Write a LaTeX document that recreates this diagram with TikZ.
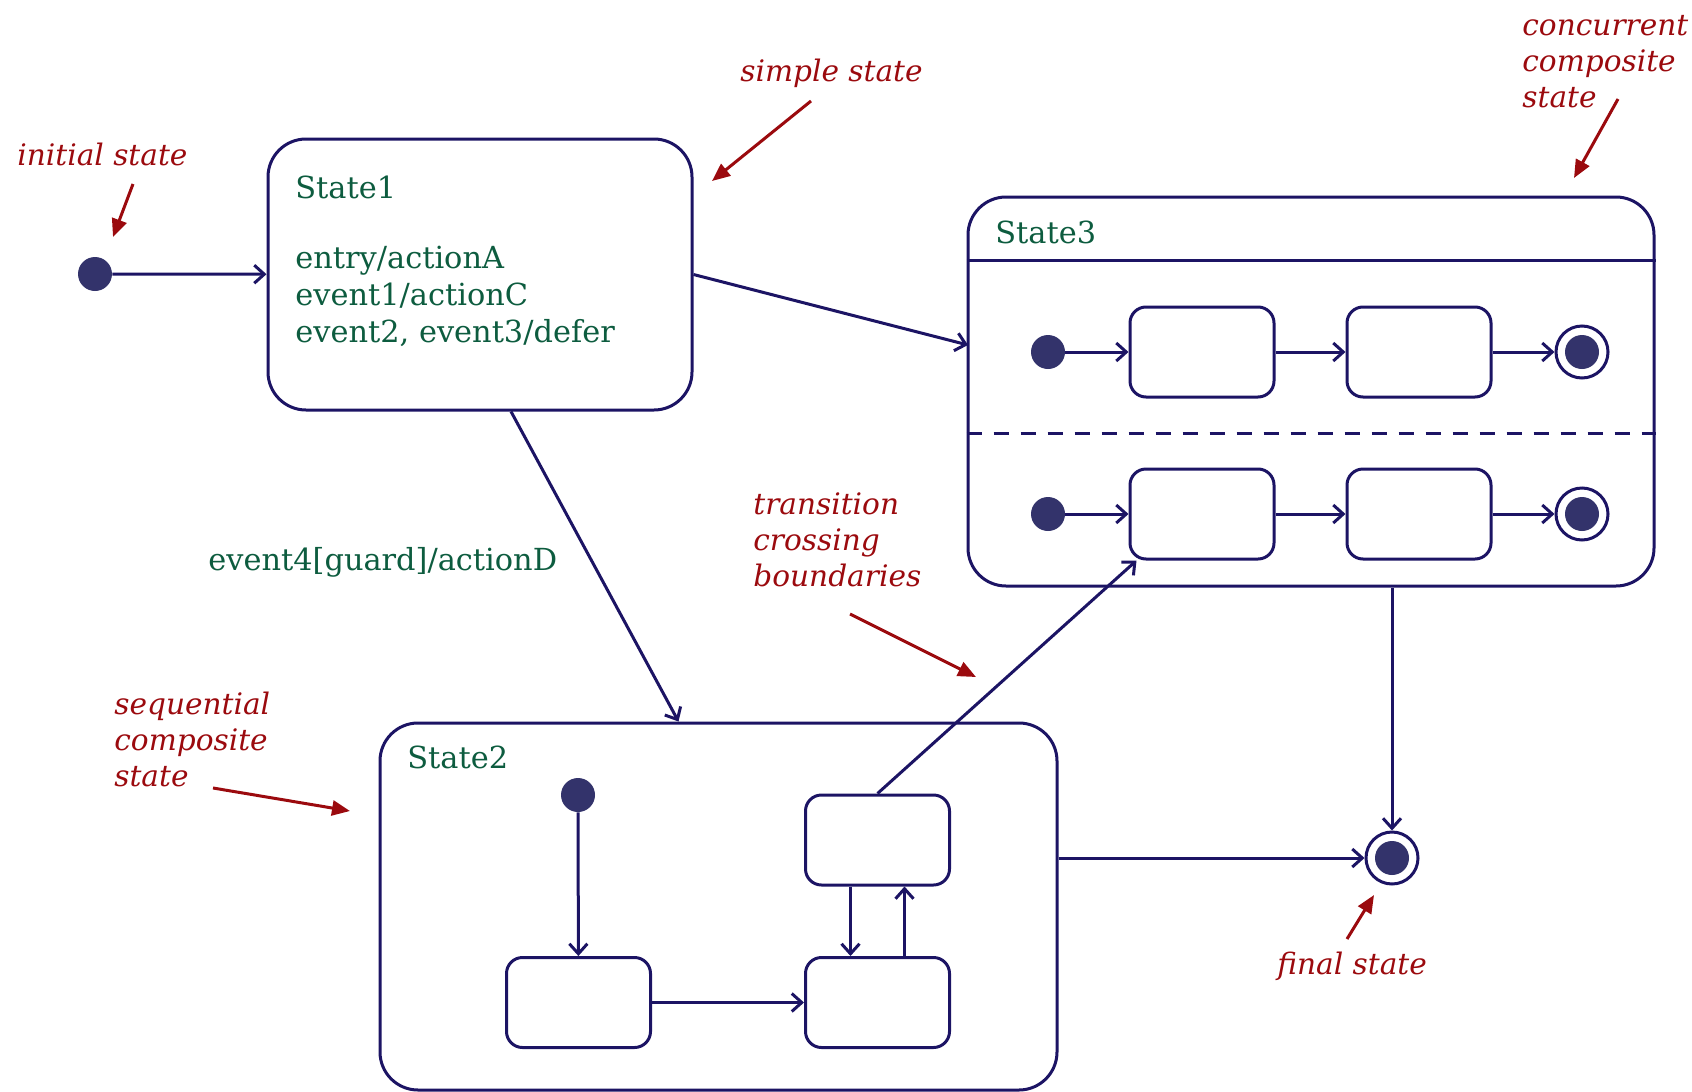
\documentclass[tikz,border=0pt]{standalone}
\usepackage{fontspec}
\setmainfont{DejaVu Serif}
\usetikzlibrary{arrows.meta, positioning, calc}
\definecolor{umlnavy}{HTML}{1C1464}
\definecolor{dotnavy}{HTML}{33336B}
\definecolor{umlgreen}{HTML}{0D5C3F}
\definecolor{notered}{HTML}{9B0A0E}

\begin{document}
\begin{tikzpicture}[x=0.5pt, y=-0.5pt, font=\fontsize{15.2}{18.5}\selectfont,
    statebox/.style={draw=umlnavy, line width=1.5pt, rounded corners=19pt, inner sep=0pt},
    substate/.style={draw=umlnavy, line width=1.5pt, rounded corners=8pt, minimum width=72pt, minimum height=45pt, inner sep=0pt},
    initdot/.style={circle, fill=dotnavy, minimum size=17pt, inner sep=0pt},
    finaldot/.style={circle, draw=umlnavy, line width=1.5pt, fill=white, minimum size=26pt, inner sep=0pt,
      path picture={\fill[dotnavy] (path picture bounding box.center) circle (8.5pt);}},
    trans/.style={draw=umlnavy, line width=1.5pt, -{Straight Barb[length=5pt, width=9pt]}},
    greentext/.style={text=umlgreen, inner sep=0pt, anchor=base west},
    notetext/.style={text=notered, font=\fontsize{14.8}{18}\selectfont\itshape, inner sep=0pt, anchor=base west, align=left},
    notearrow/.style={draw=notered, line width=1.5pt, -{Triangle[length=9pt, width=7.5pt]}}]
  \useasboundingbox (0,0) rectangle (1692,1092);

  % Estados compuestos y simple
  \node[statebox, minimum width=212pt, minimum height=135.5pt] (state1) at (480,274.5) {};
  \node[statebox, minimum width=343pt, minimum height=194.5pt] (state3) at (1311,391.5) {};
  \node[statebox, minimum width=338.5pt, minimum height=183.5pt] (state2) at (718.5,906.5) {};

  % Textos verdes (base = ultima linea)
  \node[greentext] (s1title) at (295,198) {State1};
  \node[greentext, align=left] (s1acts) at (295,342) {entry/actionA\\event1/actionC\\event2, event3/defer};
  \node[greentext] (s3title) at (995,243) {State3};
  \node[greentext] (s2title) at (407,768) {State2};
  \node[greentext] (guardlbl) at (208,570) {event4[guard]/actionD};

  % Cabecera y separador de regiones
  \coordinate (hdr) at (0,260);
  \coordinate (sep) at (0,433);
  \draw[umlnavy, line width=1.5pt] (state3.west |- hdr) -- (state3.east |- hdr);
  \draw[umlnavy, line width=1.5pt, dash pattern=on 7.5pt off 6pt] (state3.west |- sep) -- (state3.east |- sep);

  % Pseudoestados
  \node[initdot] (init) at (95,274) {};
  \node[finaldot] (final) at (1392,858) {};

  % Regiones de State3
  \node[initdot] (r1init) at (1048,352) {};
  \node[substate] (r1a) at (1202,352) {};
  \node[substate] (r1b) at (1419,352) {};
  \node[finaldot] (r1final) at (1582,352) {};
  \node[initdot] (r2init) at (1048,514) {};
  \node[substate] (r2a) at (1202,514) {};
  \node[substate] (r2b) at (1419,514) {};
  \node[finaldot] (r2final) at (1582,514) {};

  % Interior de State2
  \node[initdot] (s2init) at (578,795) {};
  \node[substate] (s2a) at (578.5,1002.5) {};
  \node[substate] (s2b) at (877.5,1002.5) {};
  \node[substate] (s2c) at (877.5,840) {};

  % Transiciones
  \coordinate (s3in) at (968,345);
  \draw[trans] (init) -- (state1);
  \draw[trans] (state1.east) -- (s3in);
  \draw[trans] ([xshift=15.5pt]state1.south) -- ([xshift=-20pt]state2.north);
  \draw[trans] (r1init) -- (r1a);
  \draw[trans] (r1a) -- (r1b);
  \draw[trans] (r1b) -- (r1final);
  \draw[trans] (r2init) -- (r2a);
  \draw[trans] (r2a) -- (r2b);
  \draw[trans] (r2b) -- (r2final);
  \draw[trans] (s2init) -- (s2a);
  \draw[trans] (s2a) -- (s2b);
  \draw[trans] ([xshift=-13.5pt]s2c.south) -- ([xshift=-13.5pt]s2b.north);
  \draw[trans] ([xshift=13.5pt]s2b.north) -- ([xshift=13.5pt]s2c.south);
  \draw[trans] (s2c.north) -- ([xshift=4pt]r2a.south west);
  \draw[trans] (state3.south -| final) -- (final);
  \draw[trans] (state2.east |- final) -- (final);

  % Notas en rojo (base = ultima linea)
  \node[notetext] (initnote) at (17,165) {initial state};
  \node[notetext] (simplenote) at (740,81) {simple state};
  \node[notetext] (concnote) at (1522,107) {concurrent\\composite\\state};
  \node[notetext] (crossnote) at (753,586) {transition\\crossing\\boundaries};
  \node[notetext] (seqnote) at (114,786) {sequential\\composite\\state};
  \node[notetext] (finalnote) at (1277,974) {final state};

  % Flechas de las notas
  \coordinate (initTail) at (133,184);   \coordinate (initTip) at (113,237);
  \coordinate (simpleTail) at (811,101); \coordinate (simpleTip) at (712,181);
  \coordinate (concTail) at (1618,99);   \coordinate (concTip) at (1574,178);
  \coordinate (crossTail) at (850,614);  \coordinate (crossTip) at (976,677);
  \coordinate (seqTail) at (213,788);    \coordinate (seqTip) at (350,811);
  \coordinate (finalTail) at (1347,939); \coordinate (finalTip) at (1374,895);
  \draw[notearrow] (initTail) -- (initTip);
  \draw[notearrow] (simpleTail) -- (simpleTip);
  \draw[notearrow] (concTail) -- (concTip);
  \draw[notearrow] (crossTail) -- (crossTip);
  \draw[notearrow] (seqTail) -- (seqTip);
  \draw[notearrow] (finalTail) -- (finalTip);
\end{tikzpicture}
\end{document}
